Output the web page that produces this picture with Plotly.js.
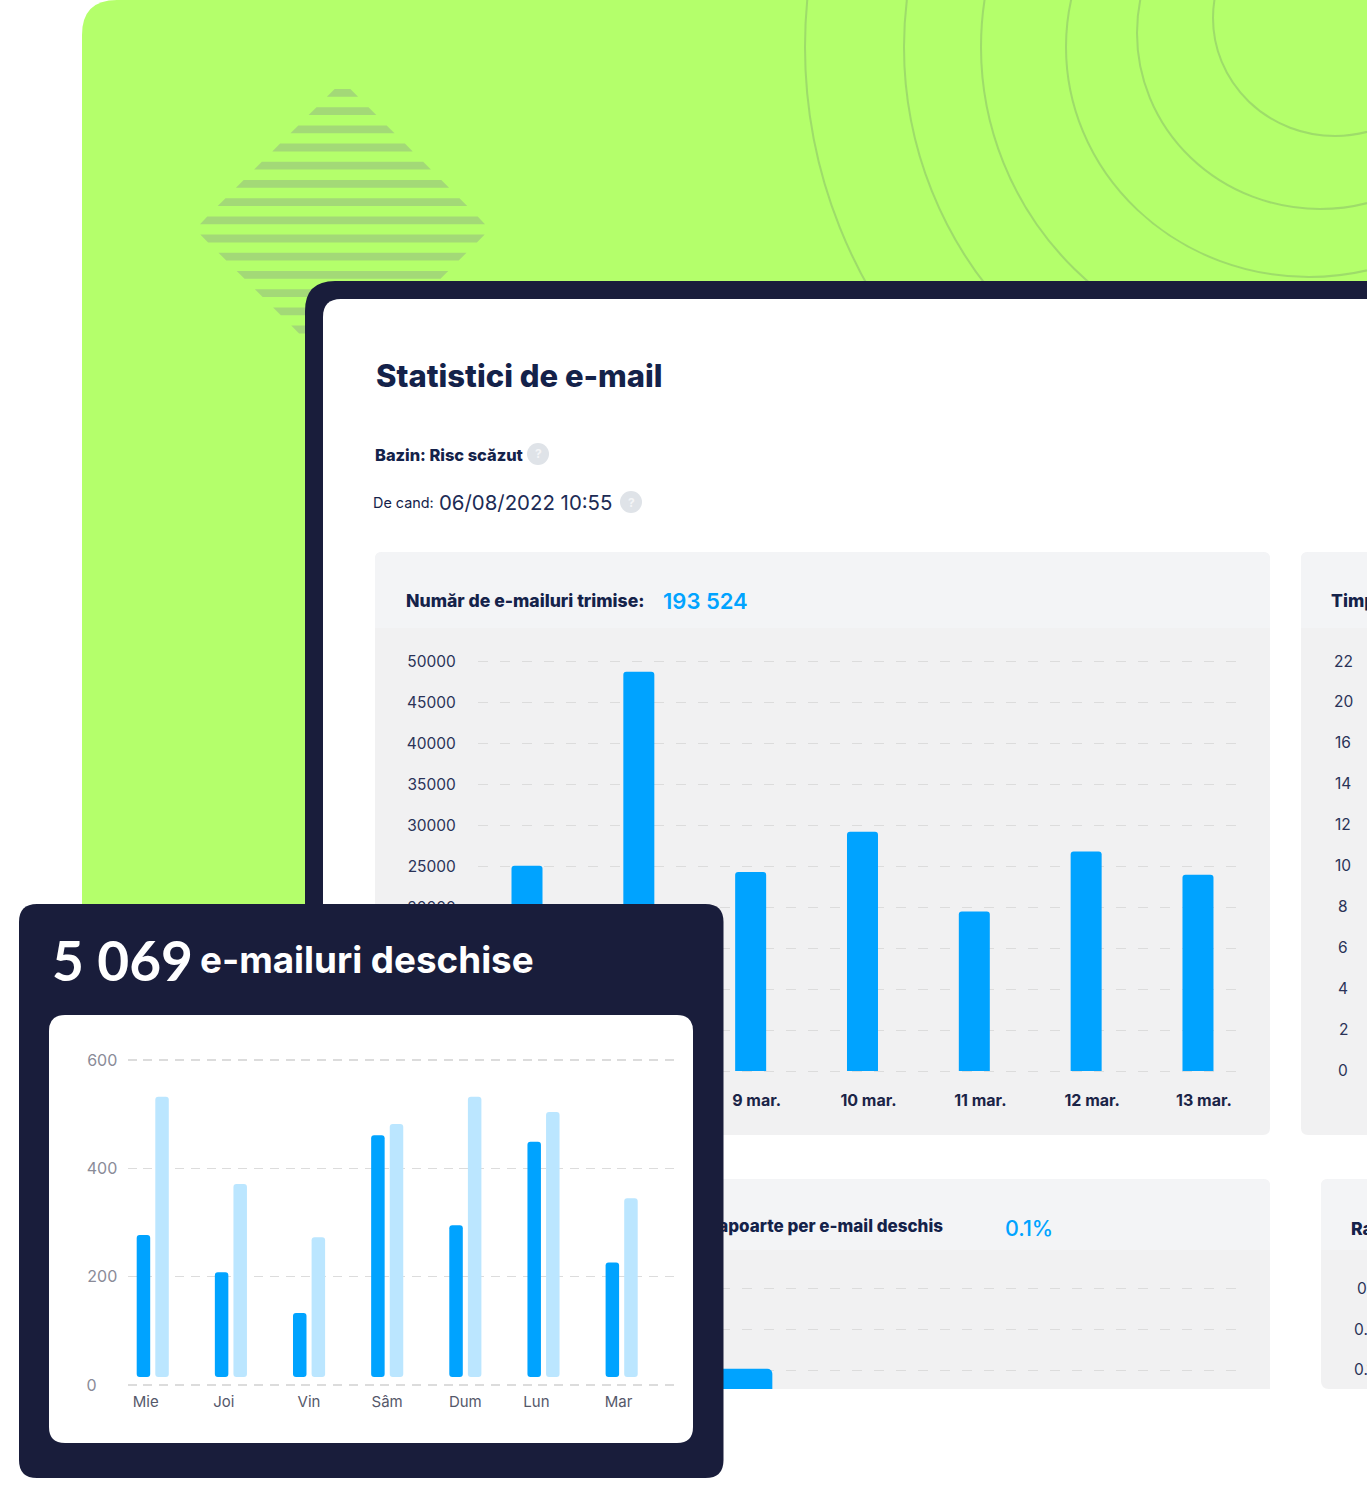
<!DOCTYPE html>
<html>
<head>
<meta charset="utf-8">
<script src="https://cdn.plot.ly/plotly-3.0.1.min.js"></script>
<style>
html,body{margin:0;padding:0;background:#fff;overflow:hidden}
#wrap{position:relative;width:1367px;height:1500px;overflow:hidden}
#back,#front{position:absolute;left:0;top:0;width:1367px;height:1500px}
</style>
</head>
<body>
<div id="wrap"><div id="back"></div><div id="front"></div></div>
<script>
// ---------- data ----------
const sentDays   = ['7 mar.','8 mar.','9 mar.','10 mar.','11 mar.','12 mar.','13 mar.'];
const sentDayLabels = ['','','9 mar.','10 mar.','11 mar.','12 mar.','13 mar.'];
const sentValues = [25050,48750,24300,29200,19480,26800,23950];
const sentTicks  = [0,5000,10000,15000,20000,25000,30000,35000,40000,45000,50000];
const sentTickLabels = ['','','','','20000','25000','30000','35000','40000','45000','50000'];
const reportValues = [0.1006];
const reportTicks  = [0.10,0.12,0.14];
const timeTickLabels = ['22','20','16','14','12','10','8','6','4','2','0'];
const rateTickLabels = ['0.3','0.2','0.1'];
const weekDays   = ['Mie','Joi','Vin','Sâm','Dum','Lun','Mar'];
const weekDark   = [277,208,133,461,295,449,226];
const weekLight  = [532,371,273,482,532,504,345];
const weekTicks  = [0,200,400,600];
const weekBarFloor = 15;

// ---------- style ----------
const W=1367,H=1500;
const NAVY='#14224a',INK='#1b2447',BLUE='#00a3ff',LIGHT='#bbe6ff',DARK='#191d3b',LIME='#b4ff6b';
const FONT='Inter, "Noto Sans", sans-serif';
const fx=x=>x/W, fy=y=>1-y/H;

function rr(x0,y0,x1,y1,tl,tr,br,bl){
  const P=(x,y)=>fx(x).toFixed(5)+','+fy(y).toFixed(5);
  return 'M'+P(x0+tl,y0)+' L'+P(x1-tr,y0)+' Q'+P(x1,y0)+' '+P(x1,y0+tr)+
         ' L'+P(x1,y1-br)+' Q'+P(x1,y1)+' '+P(x1-br,y1)+
         ' L'+P(x0+bl,y1)+' Q'+P(x0,y1)+' '+P(x0,y1-bl)+
         ' L'+P(x0,y0+tl)+' Q'+P(x0,y0)+' '+P(x0+tl,y0)+' Z';
}
function box(x0,y0,x1,y1,color,tl,tr,br,bl){
  return {type:'path',xref:'paper',yref:'paper',layer:'below',path:rr(x0,y0,x1,y1,tl,tr,br,bl),
          fillcolor:color,line:{width:0}};
}
function ring(cx,cy,rx,ry){
  return {type:'circle',xref:'paper',yref:'paper',layer:'below',
          x0:fx(cx-rx),x1:fx(cx+rx),y0:fy(cy+ry),y1:fy(cy-ry),
          line:{color:'rgba(135,185,105,0.5)',width:2}};
}
function dot(cx,cy,r){
  return {type:'circle',xref:'paper',yref:'paper',layer:'below',
          x0:fx(cx-r),x1:fx(cx+r),y0:fy(cy+r),y1:fy(cy-r),fillcolor:'#dfe3e8',line:{width:0}};
}
function stripe(y0,y1,h0,h1){
  const c=342.5,P=(x,y)=>fx(x).toFixed(5)+','+fy(y).toFixed(5);
  return {type:'path',xref:'paper',yref:'paper',layer:'below',fillcolor:'#a3d977',line:{width:0},
          path:'M'+P(c-h0,y0)+' L'+P(c+h0,y0)+' L'+P(c+h1,y1)+' L'+P(c-h1,y1)+' Z'};
}
function txt(x,y,text,size,color,weight,anchor,family){
  const a=anchor||'left';
  const nudge=a==='left'?-2:(a==='right'?2:0);
  return {xref:'paper',yref:'paper',x:fx(x+nudge),y:fy(y),text:text,showarrow:false,
          xanchor:a,yanchor:'middle',
          font:{family:family||FONT,size:size,color:color,weight:weight||400}};
}

// ---------- back figure ----------
const backShapes=[ box(82,0,1400,1100,LIME,35,35,0,0) ];
[[1335,18,122,118],[1320,33,183,176],[1309,47,243,230],[1300,47,319,314],[1300,47,396,391],[1300,47,495,490]]
  .forEach(r=>backShapes.push(ring(...r)));
for(let i=0;i<14;i++){
  const top=89+i*18.2, bot=top+7.8;
  const hw=y=> y<229 ? Math.min(142.5,15.5+(y-96.7)) : 142.5-(y-234.3);
  backShapes.push(stripe(top,bot,Math.max(hw(top),6),hw(bot)));
}
backShapes.push(box(305,281,1420,1100,DARK,30,0,0,0));
backShapes.push(box(323,299,1420,1389,'#ffffff',18,0,0,0));
// stat panels
const PANEL='#f1f1f2',HEAD='#f3f4f6';
backShapes.push(box(375,552,1270,1135,PANEL,7,7,7,7));
backShapes.push(box(375,552,1270,628,HEAD,7,7,0,0));
backShapes.push(box(1301,552,1420,1135,PANEL,7,0,0,7));
backShapes.push(box(1301,552,1420,628,HEAD,7,0,0,0));
backShapes.push(box(375,1179,1270,1389,PANEL,7,7,0,0));
backShapes.push(box(375,1179,1270,1250,HEAD,7,7,0,0));
backShapes.push(box(1321,1179,1420,1389,PANEL,7,0,0,8));
backShapes.push(box(1321,1179,1420,1250,HEAD,7,0,0,0));
backShapes.push(dot(538,454,11));
backShapes.push(dot(631,502,11));

const backNotes=[
  txt(376,376,'Statistici de e-mail',31,NAVY,800),
  txt(375,455,'Bazin: Risc scăzut',16.4,NAVY,800),
  txt(538,454,'?',12,'#f4f5f7',700,'center'),
  txt(373,503,'De cand:',14.4,NAVY,400),
  txt(439,503,'06/08/2022 10:55',20.4,'#1c2b55',400),
  txt(631,502,'?',12,'#f4f5f7',700,'center'),
  txt(406,600,'Număr de e-mailuri trimise:',17.6,NAVY,800),
  txt(663,601,'193 524',22,BLUE,600),
  txt(1331,600,'Timp',17.6,NAVY,800),
  txt(943,1226,'Rapoarte per e-mail deschis',17,NAVY,800,'right'),
  txt(1005,1228,'0.1%',21.5,BLUE,500),
  txt(1351,1228,'Rata',17.6,NAVY,800)
];
timeTickLabels.forEach((t,i)=>backNotes.push(txt(1343,661+i*40.9,t,15.5,'#2a3358',400,'center')));
rateTickLabels.forEach((t,i)=>backNotes.push(txt(i===0?1357:1354,1288.5+i*40.7,t,15.5,'#2a3358',400)));

const unitPx=111.83;
const sentRange=[-49/unitPx,(1238-527)/unitPx];
const sentPad=4, sentPxPerUnit=409.5/50000;   // axis runs a few px past both ends so the end gridlines stay drawn
const backTraces=[
  {type:'bar',x:sentDays.map((d,i)=>i),y:sentValues,xaxis:'x',yaxis:'y',width:31/unitPx,
   marker:{color:BLUE,cornerradius:3},hoverinfo:'skip'},
  {type:'bar',x:[1.55],y:reportValues,xaxis:'x2',yaxis:'y2',width:144/unitPx,
   marker:{color:BLUE,cornerradius:5},hoverinfo:'skip'}
];
const clear='rgba(0,0,0,0)';
const GRID='#dcdcdc';
const backLayout={
  width:W,height:H,margin:{l:0,r:0,t:0,b:0},showlegend:false,
  paper_bgcolor:'#ffffff',plot_bgcolor:clear,font:{family:FONT},
  shapes:backShapes,annotations:backNotes,
  xaxis:{domain:[fx(478),fx(1238)],anchor:'free',range:sentRange,tickmode:'array',position:fy(1071),
    tickvals:sentDays.map((d,i)=>i+6/unitPx),ticktext:sentDayLabels,showgrid:false,zeroline:false,showline:false,
    ticks:'outside',ticklen:15,tickcolor:clear,tickfont:{family:FONT,size:16,color:INK,weight:700}},
  yaxis:{domain:[fy(1071+sentPad),fy(661.5-sentPad)],anchor:'x',
    range:[-sentPad/sentPxPerUnit,50000+sentPad/sentPxPerUnit],tickmode:'array',tickvals:sentTicks,
    ticktext:sentTickLabels,gridcolor:GRID,griddash:'10px,12px',gridwidth:1,zeroline:false,showline:false,
    ticks:'outside',ticklen:18,tickcolor:clear,tickfont:{family:FONT,size:15.5,color:'#2a3358'}},
  xaxis2:{domain:[fx(478),fx(1238)],anchor:'y2',range:sentRange,showticklabels:false,showgrid:false,zeroline:false,ticks:''},
  yaxis2:{domain:[fy(1389),fy(1270)],anchor:'x2',range:[0.0907,0.1492],tickmode:'array',tickvals:reportTicks,
    showticklabels:false,gridcolor:GRID,griddash:'10px,12px',gridwidth:1,zeroline:false,ticks:''}
};

// ---------- front figure: dark card ----------
const stepPx=78.15;
const labelShiftPx=[-7,-7,0,0,0,-7,-3];
const weekPad=4, weekPxPerUnit=325/600;
const frontTraces=[
  {type:'bar',x:weekDays.map((d,i)=>i),y:weekDark.map(v=>v-weekBarFloor),base:weekBarFloor,
   width:13.5/stepPx,offset:-16/stepPx,marker:{color:BLUE,cornerradius:3},hoverinfo:'skip'},
  {type:'bar',x:weekDays.map((d,i)=>i),y:weekLight.map(v=>v-weekBarFloor),base:weekBarFloor,
   width:13.5/stepPx,offset:2.6/stepPx,marker:{color:LIGHT,cornerradius:3},hoverinfo:'skip'}
];
const frontLayout={
  width:W,height:H,margin:{l:0,r:0,t:0,b:0},showlegend:false,barmode:'overlay',
  paper_bgcolor:clear,plot_bgcolor:clear,font:{family:FONT},
  shapes:[box(19,904,723.5,1478,DARK,18,18,18,18),box(49,1015,693,1443,'#ffffff',16,16,16,16)],
  annotations:[
    txt(52,960,'5 069',55,'#ffffff',700,'left','Lato, Inter, sans-serif'),
    txt(200,959,'e-mailuri deschise',36.8,'#ffffff',700)
  ],
  xaxis:{domain:[fx(127.5),fx(674)],anchor:'free',position:fy(1385),range:[-25.2/stepPx,(674-152.7)/stepPx],tickmode:'array',
    tickvals:weekDays.map((d,i)=>i+labelShiftPx[i]/stepPx),ticktext:weekDays,showgrid:false,zeroline:false,showline:false,
    ticks:'outside',ticklen:3,tickcolor:clear,tickfont:{family:FONT,size:15,color:'#55586a'}},
  yaxis:{domain:[fy(1385+weekPad),fy(1060-weekPad)],range:[-weekPad/weekPxPerUnit,600+weekPad/weekPxPerUnit],tickmode:'array',tickvals:weekTicks,
    ticktext:weekTicks.map(v=>String(v)+'\u2007'.repeat(3-String(v).length)),
    gridcolor:GRID,griddash:'9px,6.8px',gridwidth:1.5,zeroline:false,showline:false,
    ticks:'outside',ticklen:6,tickcolor:clear,tickfont:{family:FONT,size:16,color:'#8a8b98'}}
};
const cfg={staticPlot:true,displayModeBar:false};
Plotly.newPlot('back',backTraces,backLayout,cfg);
Plotly.newPlot('front',frontTraces,frontLayout,cfg);
</script>
</body>
</html>
